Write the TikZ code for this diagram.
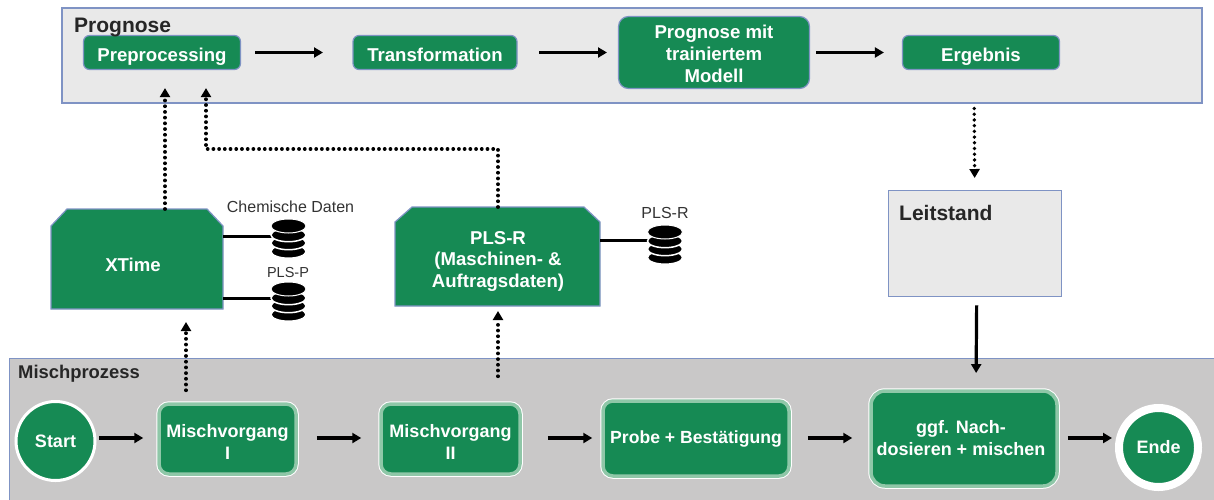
\documentclass[tikz,border=0pt]{standalone}
\usepackage{fontspec}
\setmainfont{Liberation Sans}
\usetikzlibrary{arrows.meta}
\definecolor{gr}{HTML}{168A54}
\definecolor{edgeb}{HTML}{7F93C4}
\definecolor{pan}{HTML}{E9E9E9}
\definecolor{panb}{HTML}{C9C8C8}
\definecolor{halo}{HTML}{8FC7A8}
\tikzset{
 panel/.style={draw=edgeb,line width=2pt,rectangle,anchor=north west,inner sep=0pt},
 topbox/.style={draw=edgeb,line width=1.2pt,fill=gr,rounded corners=6pt,text=white,font=\fontsize{18.6}{22}\selectfont\bfseries,align=center,inner sep=0pt},
 single/.style={text height=17pt,text depth=0pt},
 procbox/.style={preaction={draw=white,line width=5.5pt},draw=halo,line width=3.5pt,fill=gr,rounded corners=10pt,text=white,font=\fontsize{18}{22}\selectfont\bfseries,align=center,inner sep=0pt},
 circ/.style={circle,draw=white,fill=gr,text=white,font=\fontsize{18}{22}\selectfont\bfseries,inner sep=0pt},
 head/.style={font=\fontsize{21}{25}\selectfont\bfseries,text=black!85,inner sep=0pt,anchor=base west},
 small/.style={font=\fontsize{14.5}{18}\selectfont,text=black!80,inner sep=0pt,anchor=base},
 arr/.style={line width=3.2pt,-{Triangle[length=9pt,width=10pt]},black},
 dot/.style={line width=3.8pt,line cap=round,dash pattern=on 0.01pt off 5.7pt,black,-{Triangle[length=9pt,width=10pt,sep=0pt]}},
 link/.style={line width=3pt,black},
 frame/.style={rectangle,inner sep=0pt,outer sep=0pt},
 chamf/.style={draw=edgeb,line width=1.2pt,fill=gr},
 lbl/.style={text=white,font=\fontsize{18.6}{21.5}\selectfont\bfseries,align=center,inner sep=0pt},
}
\newcommand{\dbicon}[2]{%
 \foreach \k in {32.5,24,16}{\fill[black,draw=white,line width=1.5pt] (#1,#2+\k) ellipse[x radius=17.5,y radius=6.7];}
 \fill[black,draw=white,line width=1pt] (#1,#2+7) ellipse[x radius=17.5,y radius=7];
}
\begin{document}
\begin{tikzpicture}[x=1pt,y=-1pt]
\useasboundingbox (0,0) rectangle (1214,499);
\fill[white] (0,0) rectangle (1214,499);
\node[panel,fill=pan,minimum width=1140pt,minimum height=95pt] (pg) at (61,7) {};
\node[panel,fill=panb,line width=1.4pt,minimum width=1208pt,minimum height=143pt] (mp) at (9,358) {};
\node[topbox,single,minimum width=157pt,minimum height=34pt] (pre) at (162,52.5) {Preprocessing};
\node[topbox,single,minimum width=164pt,minimum height=34pt] (tra) at (435,52.5) {Transformation};
\node[topbox,minimum width=191pt,minimum height=72pt,rounded corners=10pt] (mod) at (714,52.5) {\rule{0pt}{17pt}Prognose mit\\trainiertem\\Modell};
\node[topbox,single,minimum width=157pt,minimum height=34pt] (erg) at (981,52.5) {Ergebnis};
\node[head] (tp) at (74,32) {Prognose};
\node[head,font=\fontsize{18.4}{22}\selectfont\bfseries] (tm) at (18,378) {Mischprozess};
\draw[arr,shorten <=14pt,shorten >=29.4pt] (pre.east) -- (tra.west);
\draw[arr,shorten <=21.4pt,shorten >=10.9pt] (tra.east) -- (mod.west);
\draw[arr,shorten <=6pt,shorten >=18pt] (mod.east) -- (erg.west);
% machines
\node[frame,minimum width=172pt,minimum height=100pt] (xb) at (137,259) {};
\draw[chamf] ([yshift=-17pt]xb.north west) -- ([xshift=16pt]xb.north west) -- ([xshift=-16pt]xb.north east) -- ([yshift=-17pt]xb.north east) -- (xb.south east) -- (xb.south west) -- cycle;
\node[lbl] (xt) at (133,265) {XTime};
\node[frame,minimum width=205pt,minimum height=99pt] (pl) at (497.5,256.5) {};
\draw[chamf] ([yshift=-15pt]pl.north west) -- ([xshift=17pt]pl.north west) -- ([xshift=-16pt]pl.north east) -- ([yshift=-15pt]pl.north east) -- (pl.south east) -- (pl.south west) -- cycle;
\node[lbl] (pls) at (498,261) {PLS-R\\(Maschinen- \&\\Auftragsdaten)};
\coordinate (db1) at (272,236);
\coordinate (db2) at (272,298);
\coordinate (db3) at (648,240);
\draw[link] ([yshift=23pt]xb.east) -- (db1);
\draw[link] ([yshift=-39pt]xb.east) -- (db2);
\draw[link] ([yshift=16.5pt]pl.east) -- (db3);
\dbicon{288.5}{219}
\dbicon{288.5}{282}
\dbicon{665}{225}
\node[small,font=\fontsize{16}{18}\selectfont] (l1) at (290.5,212) {Chemische Daten};
\node[small] (l2) at (288,277) {PLS-P};
\node[small,font=\fontsize{16}{18}\selectfont] (l3) at (665,218) {PLS-R};
% Leitstand
\node[panel,fill=pan,minimum width=173pt,minimum height=106pt,line width=1.4pt] (ls) at (888,190) {};
\node[head] (lt) at (899,220) {Leitstand};
% process
\node[circ,line width=3pt,minimum size=79pt] (st) at (55.5,441) {Start};
\node[procbox,minimum width=137pt,minimum height=70pt] (m1) at (227.5,439) {\rule{0pt}{19pt}Mischvorgang\\I};
\node[procbox,minimum width=139pt,minimum height=70pt] (m2) at (450.5,439) {\rule{0pt}{19pt}Mischvorgang\\II};
\node[procbox,minimum width=186pt,minimum height=75pt,font=\fontsize{17.6}{22}\selectfont\bfseries] (pb) at (696,438.5) {Probe + Bestätigung};
\node[procbox,minimum width=186pt,minimum height=95pt,rounded corners=14pt] (nd) at (964,438.5) {ggf. Nach-\hspace*{6pt}\\dosieren + mischen\hspace*{6pt}};
\node[circ,line width=8pt,minimum size=79pt] (en) at (1158.5,447.5) {Ende};
\draw[arr,shorten <=2.5pt,shorten >=14pt] ([yshift=3pt]st.east) -- ([yshift=1pt]m1.west);
\draw[arr,shorten <=19pt,shorten >=18pt] ([yshift=1pt]m1.east) -- ([yshift=1pt]m2.west);
\draw[arr,shorten <=26pt,shorten >=9pt] ([yshift=1pt]m2.east) -- ([yshift=.5pt]pb.west);
\draw[arr,shorten <=17pt,shorten >=17pt] ([yshift=.5pt]pb.east) -- ([yshift=.5pt]nd.west);
\draw[arr,shorten <=9pt,shorten >=3pt] ([yshift=.5pt]nd.east) -- ([yshift=9.5pt]en.west);
% dotted
\coordinate (bend1) at (498,149);
\coordinate (bend2) at (206,149);
\draw[dot,shorten >=18pt] ([xshift=28pt]xb.north) -- ([xshift=3pt]pre.south);
\draw[dot,shorten >=18pt] ([xshift=.5pt]pl.north) -- (bend1) -- (bend2) -- ([xshift=44pt]pre.south);
\draw[dot,shorten <=12pt,shorten >=13pt] ([xshift=-41.5pt]m1.north) -- ([xshift=49pt]xb.south);
\draw[dot,shorten <=26pt,shorten >=5pt] ([xshift=47.5pt]m2.north) -- ([xshift=.5pt]pl.south);
\draw[dot,shorten <=38.4pt,shorten >=12pt] ([xshift=-7pt]erg.south) -- ([xshift=-.5pt]ls.north);
\draw[arr,shorten <=8pt,shorten >=16.2pt] ([xshift=1.5pt]ls.south) -- ([xshift=12pt]nd.north);
\end{tikzpicture}
\end{document}
